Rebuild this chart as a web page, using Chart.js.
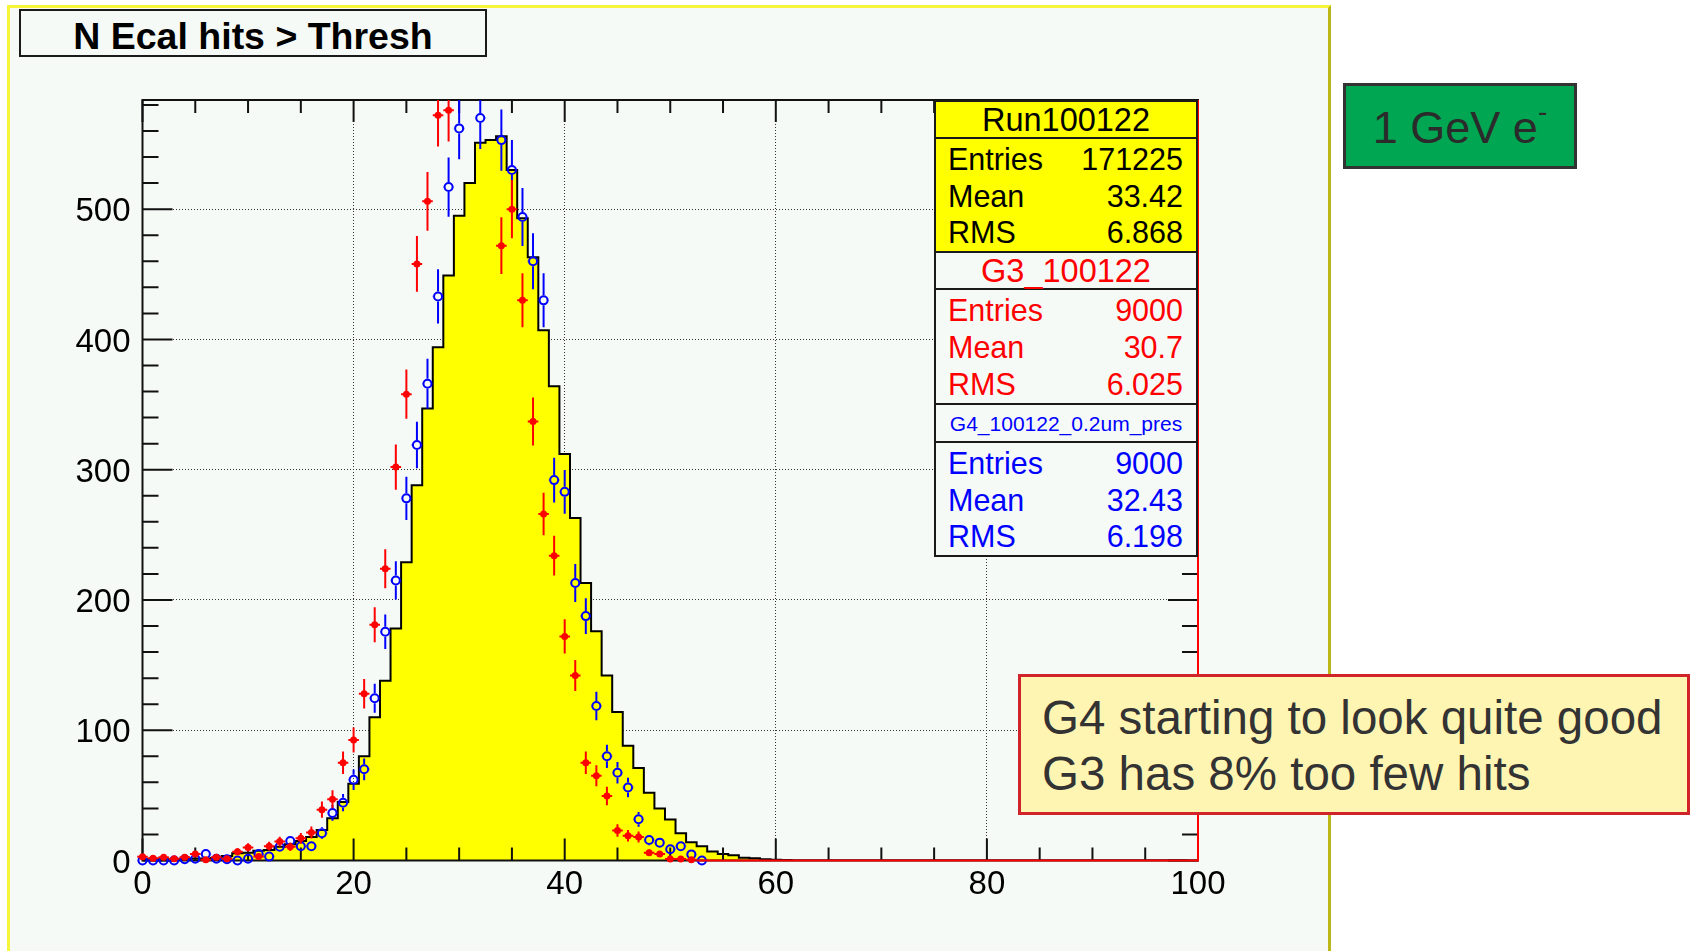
<!DOCTYPE html>
<html lang="en">
<head>
<meta charset="utf-8">
<title>N Ecal hits &gt; Thresh</title>
<script src="https://cdn.jsdelivr.net/npm/chart.js@4.4.1/dist/chart.umd.min.js"></script>
<style>
  html, body { margin: 0; padding: 0; background: #fff; }
  body { position: relative; width: 1698px; height: 951px; overflow: hidden;
         font-family: "Liberation Sans", Arial, Helvetica, sans-serif; }
  #pad { position: absolute; left: 7px; top: 5px; width: 1318px; height: 990px;
         background: #f6faf7; border: 3px solid #f7f43a; border-right-color: #bdb71a; border-bottom: none; }
  #hits { position: absolute; left: 0; top: 0; }
  .box { position: absolute; box-sizing: border-box; }
  #title { left: 19px; top: 9px; width: 468px; height: 48px; border: 2px solid #1a1a1a;
           background: #f6faf7; font-size: 37.5px; font-weight: bold; text-align: center;
           line-height: 44px; padding-top: 3px; }
  #stats { left: 934px; top: 100px; width: 264px; height: 457px; border: 2px solid #1a1a1a; background: #f6faf7; }
  #stats .hd { box-sizing: border-box; border-bottom: 2px solid #1a1a1a; text-align: center; font-size: 32.5px; padding-top: 2px; }
  #stats .sec { box-sizing: border-box; padding: 2px 13px 0 12px; font-size: 30.5px; }
  #stats .row { display: flex; justify-content: space-between; }
  .run { background: #ffff00; color: #000; }
  .g3 { color: #ff0000; }
  .g4 { color: #0000ff; }
  #beam { left: 1343px; top: 83px; width: 234px; height: 86px; border: 3px solid #333;
          background: #00a651; color: #2b2b2b; font-size: 45px; text-align: center;
          line-height: 80px; padding-top: 2px; }
  #beam .sup { position: relative; top: -22px; font-size: 28px; }
  #note { left: 1018px; top: 674px; width: 672px; height: 141px; border: 3px solid #d1232a;
          background: #fff5b3; color: #333; font-size: 47.5px; line-height: 56px; padding: 13px 0 0 21px; }
</style>
</head>
<body>
<div id="pad"></div>
<canvas id="hits" width="1698" height="951"></canvas>

<div id="title" class="box">N Ecal hits &gt; Thresh</div>

<div id="stats" class="box">
  <div class="hd run" style="height:37px;line-height:33px">Run100122</div>
  <div class="sec run" style="height:114px;line-height:36.6px;border-bottom:2px solid #1a1a1a">
    <div class="row"><span>Entries</span><span>171225</span></div>
    <div class="row"><span>Mean</span><span>33.42</span></div>
    <div class="row"><span>RMS</span><span>6.868</span></div>
  </div>
  <div class="hd g3" style="height:37px;line-height:33px">G3_100122</div>
  <div class="sec g3" style="height:115px;line-height:37px;border-bottom:2px solid #1a1a1a">
    <div class="row"><span>Entries</span><span>9000</span></div>
    <div class="row"><span>Mean</span><span>30.7</span></div>
    <div class="row"><span>RMS</span><span>6.025</span></div>
  </div>
  <div class="hd g4" style="height:38px;line-height:34px;font-size:21px">G4_100122_0.2um_pres</div>
  <div class="sec g4" style="height:112px;line-height:36.6px">
    <div class="row"><span>Entries</span><span>9000</span></div>
    <div class="row"><span>Mean</span><span>32.43</span></div>
    <div class="row"><span>RMS</span><span>6.198</span></div>
  </div>
</div>

<div id="beam" class="box">1 GeV e<span class="sup">-</span></div>

<div id="note" class="box">G4 starting to look quite good<br>G3 has 8% too few hits</div>

<script>
// bin centres (number of hits), one bin per integer
var bins = [
   0,  1,  2,  3,  4,  5,  6,  7,  8,  9, 10, 11, 12, 13, 14, 15, 16, 17, 18, 19,
  20, 21, 22, 23, 24, 25, 26, 27, 28, 29, 30, 31, 32, 33, 34, 35, 36, 37, 38, 39,
  40, 41, 42, 43, 44, 45, 46, 47, 48, 49, 50, 51, 52, 53, 54, 55, 56, 57, 58, 59,
  60, 61, 62, 63, 64, 65, 66, 67, 68, 69, 70, 71, 72, 73, 74, 75, 76, 77, 78, 79,
  80, 81, 82, 83, 84, 85, 86, 87, 88, 89, 90, 91, 92, 93, 94, 95, 96, 97, 98, 99
];

// Run100122 data, normalised to the MC entries
var runCounts = [
  1, 1, 0.5, 1, 1, 1.5, 1.5, 2, 3.5, 5.5,
  6, 7.5, 8, 10.5, 12.5, 15, 18, 23.5, 32.5, 45,
  59, 80, 110, 138, 178, 229, 288, 347, 394, 449,
  495, 520, 551, 553, 556, 530, 493, 463, 407, 364,
  312, 263, 213, 176, 142, 114, 88, 71, 52, 40,
  31.5, 21, 14, 11, 7, 5, 4, 2.2, 1.7, 1,
  0.5, 0.3, 0, 0, 0, 0, 0, 0, 0, 0,
  0, 0, 0, 0, 0, 0, 0, 0, 0, 0,
  0, 0, 0, 0, 0, 0, 0, 0, 0, 0,
  0, 0, 0, 0, 0, 0, 0, 0, 0, 0
];

// G3_100122 simulation (null = empty bin)
var g3Counts = [
  2.9, 1.7, 2.4, 1.4, 2.4, 5, 0.5, 2.4, 1.4, 6.8,
  10, 3, 11, 14.5, 10.5, 17, 21.5, 39, 47, 75,
  92.5, 128, 181, 224, 302, 358, 458, 506, 572, 576,
  625, 632, 620, 615, 472, 500, 430, 337, 266, 234,
  172, 142, 75, 65, 49.5, 23, 19, 18, 6, 5,
  1.2, 1.2, 0.5, null, null, null, null, null, null, null,
  null, null, null, null, null, null, null, null, null, null,
  null, null, null, null, null, null, null, null, null, null,
  null, null, null, null, null, null, null, null, null, null,
  null, null, null, null, null, null, null, null, null, null
];

// G4_100122_0.2um_pres simulation
var g4Counts = [
  0, 0, 0, 0, 1, 1.4, 5, 1.4, 1, 0,
  1.4, 5, 3, 10.6, 15, 11, 11, 21, 36.5, 44.4,
  62, 70, 124.5, 175.6, 215, 278, 319, 366, 433, 517,
  562, 640, 570, 645, 553, 530, 494, 460, 430, 292,
  283, 213, 187.6, 118.6, 80, 67.4, 56, 31.6, 15.7, 13.7,
  8.6, 11, 4.7, 0, null, null, null, null, null, null,
  null, null, null, null, null, null, null, null, null, null,
  null, null, null, null, null, null, null, null, null, null,
  null, null, null, null, null, null, null, null, null, null,
  null, null, null, null, null, null, null, null, null, null
];

var xTicks = [0, 20, 40, 60, 80, 100];
var yTicks = [0, 100, 200, 300, 400, 500];
var yMax = 583.8;

var BIN_HALF = 0.5;
var X_MINOR = 5, X_MAJOR = 20;
var Y_MINOR = 20, Y_MAJOR = 100;

function points(counts) {
  var out = [];
  for (var i = 0; i < bins.length; i++) {
    if (counts[i] !== null) out.push({ x: bins[i], y: counts[i] });
  }
  return out;
}

// poisson error bars with horizontal bin-width bars, drawn under the markers
var errorBars = {
  id: 'errorBars',
  beforeDatasetDraw: function(chart, args) {
    var ds = chart.data.datasets[args.index];
    if (!ds.errorBars) return;
    var ctx = chart.ctx, a = chart.chartArea, xs = chart.scales.x, ys = chart.scales.y;
    ctx.save();
    ctx.beginPath();
    ctx.rect(a.left - 10, a.top, a.right - a.left + 20, a.bottom - a.top + 10);
    ctx.clip();
    ctx.strokeStyle = ds.borderColor;
    ctx.lineWidth = 2;
    ctx.beginPath();
    ds.data.forEach(function(p) {
      var px = xs.getPixelForValue(p.x);
      var py = ys.getPixelForValue(p.y);
      var err = Math.sqrt(p.y);
      var top = ys.getPixelForValue(p.y + err);
      var bot = ys.getPixelForValue(p.y - err);
      var left = xs.getPixelForValue(p.x - BIN_HALF);
      var right = xs.getPixelForValue(p.x + BIN_HALF);
      var g = ds.gap;
      ctx.moveTo(left, py); ctx.lineTo(px - g, py);
      ctx.moveTo(px + g, py); ctx.lineTo(right, py);
      if (top < py - g) { ctx.moveTo(px, top); ctx.lineTo(px, py - g); }
      if (bot > py + g) { ctx.moveTo(px, py + g); ctx.lineTo(px, bot); }
    });
    ctx.stroke();
    ctx.restore();
  }
};

// frame with inward ticks on all four sides, drawn over the filled histogram
var rootFrame = {
  id: 'rootFrame',
  afterDatasetDraw: function(chart, args) {
    if (args.index !== 0) return;
    var ctx = chart.ctx, a = chart.chartArea, xs = chart.scales.x, ys = chart.scales.y;
    ctx.save();
    ctx.strokeStyle = '#111';
    ctx.lineWidth = 2;
    ctx.beginPath();
    for (var v = xs.min; v <= xs.max; v += X_MINOR) {
      var px = xs.getPixelForValue(v);
      var lx = v % X_MAJOR === 0 ? 22 : 13;
      ctx.moveTo(px, a.bottom); ctx.lineTo(px, a.bottom - lx);
      ctx.moveTo(px, a.top); ctx.lineTo(px, a.top + lx);
    }
    for (var w = ys.min; w <= ys.max; w += Y_MINOR) {
      var py = ys.getPixelForValue(w);
      var ly = w % Y_MAJOR === 0 ? 30 : 16;
      ctx.moveTo(a.left, py); ctx.lineTo(a.left + ly, py);
      ctx.moveTo(a.right, py); ctx.lineTo(a.right - ly, py);
    }
    ctx.stroke();
    ctx.strokeRect(a.left, a.top, a.right - a.left, a.bottom - a.top);
    ctx.restore();
  },
  afterDatasetsDraw: function(chart) {
    // empty G3 bins run along the floor and up the right edge
    var ctx = chart.ctx, a = chart.chartArea, xs = chart.scales.x;
    var last = 0;
    g3Counts.forEach(function(v, i) { if (v !== null) last = i; });
    ctx.save();
    ctx.strokeStyle = '#ff0000';
    ctx.lineWidth = 2;
    ctx.beginPath();
    ctx.moveTo(xs.getPixelForValue(bins[last] + BIN_HALF), a.bottom);
    ctx.lineTo(a.right, a.bottom);
    ctx.lineTo(a.right, a.top);
    ctx.stroke();
    ctx.restore();
  }
};

var tickFont = { family: '"Liberation Sans", Arial, sans-serif', size: 33 };

new Chart(document.getElementById('hits'), {
  type: 'scatter',
  data: {
    datasets: [
      {
        type: 'line',
        label: 'Run100122',
        data: points(runCounts),
        stepped: 'middle',
        fill: 'origin',
        backgroundColor: '#ffff00',
        borderColor: '#000',
        borderWidth: 2,
        pointRadius: 0,
        order: 3
      },
      {
        label: 'G4_100122_0.2um_pres',
        data: points(g4Counts),
        errorBars: true,
        gap: 5,
        borderColor: '#0000ff',
        pointRadius: 4,
        pointBorderWidth: 2,
        pointBorderColor: '#0000ff',
        pointBackgroundColor: 'rgba(0,0,0,0)',
        clip: { left: 10, top: 0, right: 10, bottom: 10 },
        order: 2
      },
      {
        label: 'G3_100122',
        data: points(g3Counts),
        errorBars: true,
        gap: 0,
        borderColor: '#ff0000',
        pointRadius: 3.5,
        pointBorderWidth: 0,
        pointBackgroundColor: '#ff0000',
        clip: { left: 10, top: 0, right: 10, bottom: 10 },
        order: 1
      }
    ]
  },
  options: {
    responsive: false,
    devicePixelRatio: 1,
    animation: false,
    events: [],
    layout: { padding: { left: 0, top: 100, right: 500, bottom: 0 } },
    plugins: { legend: { display: false }, tooltip: { enabled: false } },
    scales: {
      x: {
        type: 'linear', min: 0, max: 100,
        afterFit: function(s) { s.height = 90.5; },
        afterBuildTicks: function(s) { s.ticks = xTicks.map(function(v) { return { value: v }; }); },
        ticks: { font: tickFont, color: '#000', padding: 5, maxRotation: 0, autoSkip: false },
        grid: { color: '#333', lineWidth: 1, drawTicks: false },
        border: { display: false, dash: [1, 2] }
      },
      y: {
        type: 'linear', min: 0, max: yMax,
        afterFit: function(s) { s.width = 142.5; },
        afterBuildTicks: function(s) { s.ticks = yTicks.map(function(v) { return { value: v }; }); },
        ticks: { font: tickFont, color: '#000', padding: 12, labelOffset: 3 },
        grid: { color: '#333', lineWidth: 1, drawTicks: false },
        border: { display: false, dash: [1, 2] }
      }
    }
  },
  plugins: [errorBars, rootFrame]
});
</script>
</body>
</html>
